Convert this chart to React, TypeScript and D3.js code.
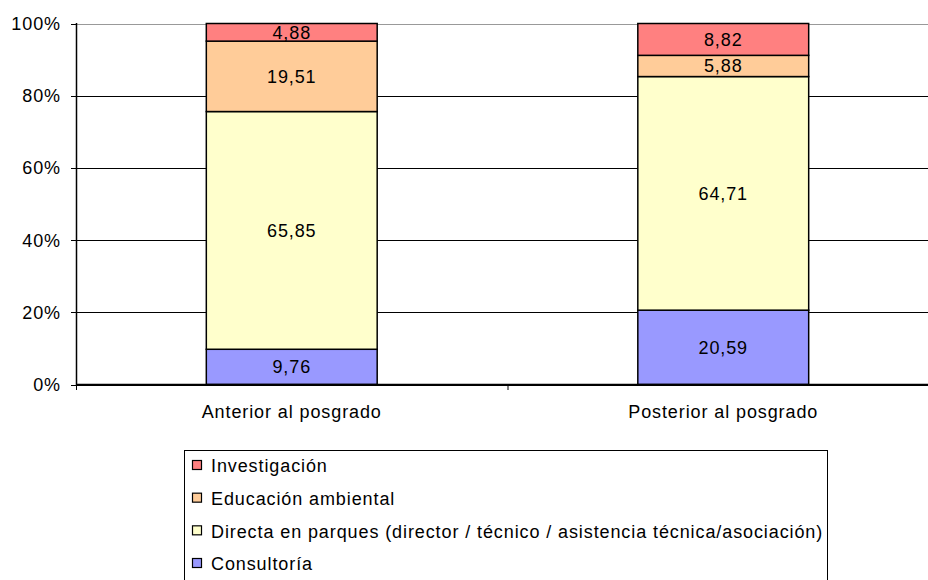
import * as d3 from 'd3'

const categories = ['Anterior al posgrado', 'Posterior al posgrado']
const seriesNames = [
  'Consultoría',
  'Directa en parques (director / técnico / asistencia técnica/asociación)',
  'Educación ambiental',
  'Investigación',
]
const seriesColors = ['#9999FF', '#FFFFCC', '#FFCC99', '#FF8080']
const consultoria = [9.76, 20.59]
const directa = [65.85, 64.71]
const educacion = [19.51, 5.88]
const investigacion = [4.88, 8.82]
const yTicks = [0, 20, 40, 60, 80, 100]

const W = 928
const H = 580
const FONT = 'Liberation Sans, Arial, sans-serif'
const FS = 18
const LS = 0.9

export default function App() {
  const x = d3.scaleBand<string>().domain(categories).range([76, 939]).paddingInner(0.604).paddingOuter(0.302)
  const y = d3.scaleLinear().domain([0, 100]).range([384.5, 23.5])

  const rows = categories.map((c, i) => ({
    cat: c,
    consultoria: consultoria[i],
    directa: directa[i],
    educacion: educacion[i],
    investigacion: investigacion[i],
  }))
  const keys = ['consultoria', 'directa', 'educacion', 'investigacion']
  const stacked = d3.stack<any>().keys(keys)(rows)

  const fmt = (v: number) => v.toFixed(2).replace('.', ',')

  // legend in reverse order (top = Investigación)
  const legendOrder = [3, 2, 1, 0]
  const legY = d3.scalePoint<number>().domain(legendOrder).range([466, 564])

  return (
    <svg
      width={W}
      height={H}
      style={{ position: 'fixed', left: 0, top: 0 }}
      fontFamily={FONT}
      fontSize={FS}
      letterSpacing={LS}
    >
      <rect width={W} height={H} fill="#fff" />
      {/* gridlines */}
      {yTicks.map((t) => (
        <line
          key={t}
          x1={76}
          x2={W}
          y1={Math.round(y(t)) + 0.5}
          y2={Math.round(y(t)) + 0.5}
          stroke={t === 100 ? '#999' : '#000'}
          strokeWidth={1}
        />
      ))}
      {/* bars */}
      {stacked.map((s, si) =>
        s.map((d, i) => {
          const x0 = x(categories[i])!
          const y0 = y(d[1])
          const y1 = y(d[0])
          return (
            <g key={`${si}-${i}`}>
              <rect
                x={x0}
                y={y0}
                width={x.bandwidth()}
                height={y1 - y0}
                fill={seriesColors[si]}
                stroke="#000"
                strokeWidth={1.5}
              />
              <text x={x0 + x.bandwidth() / 2} y={(y0 + y1) / 2} dy="0.36em" textAnchor="middle" fill="#000">
                {fmt(d[1] - d[0])}
              </text>
            </g>
          )
        })
      )}
      {/* y axis */}
      <line x1={76.5} x2={76.5} y1={23} y2={385} stroke="#000" strokeWidth={1.5} />
      {yTicks.map((t) => (
        <g key={t}>
          <line x1={71} x2={76} y1={Math.round(y(t)) + 0.5} y2={Math.round(y(t)) + 0.5} stroke="#000" />
          <text x={61} y={y(t)} dy="0.36em" textAnchor="end" fill="#000">
            {t}%
          </text>
        </g>
      ))}
      {/* x axis */}
      <line x1={76} x2={W} y1={384.5} y2={384.5} stroke="#000" strokeWidth={1.5} />
      {[76, x.step() + 76].map((tx, i) => (
        <line key={i} x1={tx + 0.5} x2={tx + 0.5} y1={384} y2={390} stroke="#000" />
      ))}
      {categories.map((c) => (
        <text key={c} x={x(c)! + x.bandwidth() / 2} y={412} dy="0.36em" textAnchor="middle" fill="#000">
          {c}
        </text>
      ))}
      {/* legend */}
      <rect x={184.5} y={450.5} width={643} height={140} fill="#fff" stroke="#000" strokeWidth={1} />
      {legendOrder.map((si) => (
        <g key={si} transform={`translate(0,${legY(si)})`}>
          <rect x={192.5} y={-5.5} width={9} height={9} fill={seriesColors[si]} stroke="#000" strokeWidth={1.2} />
          <text x={211} y={0} dy="0.36em" fill="#000">
            {seriesNames[si]}
          </text>
        </g>
      ))}
    </svg>
  )
}
